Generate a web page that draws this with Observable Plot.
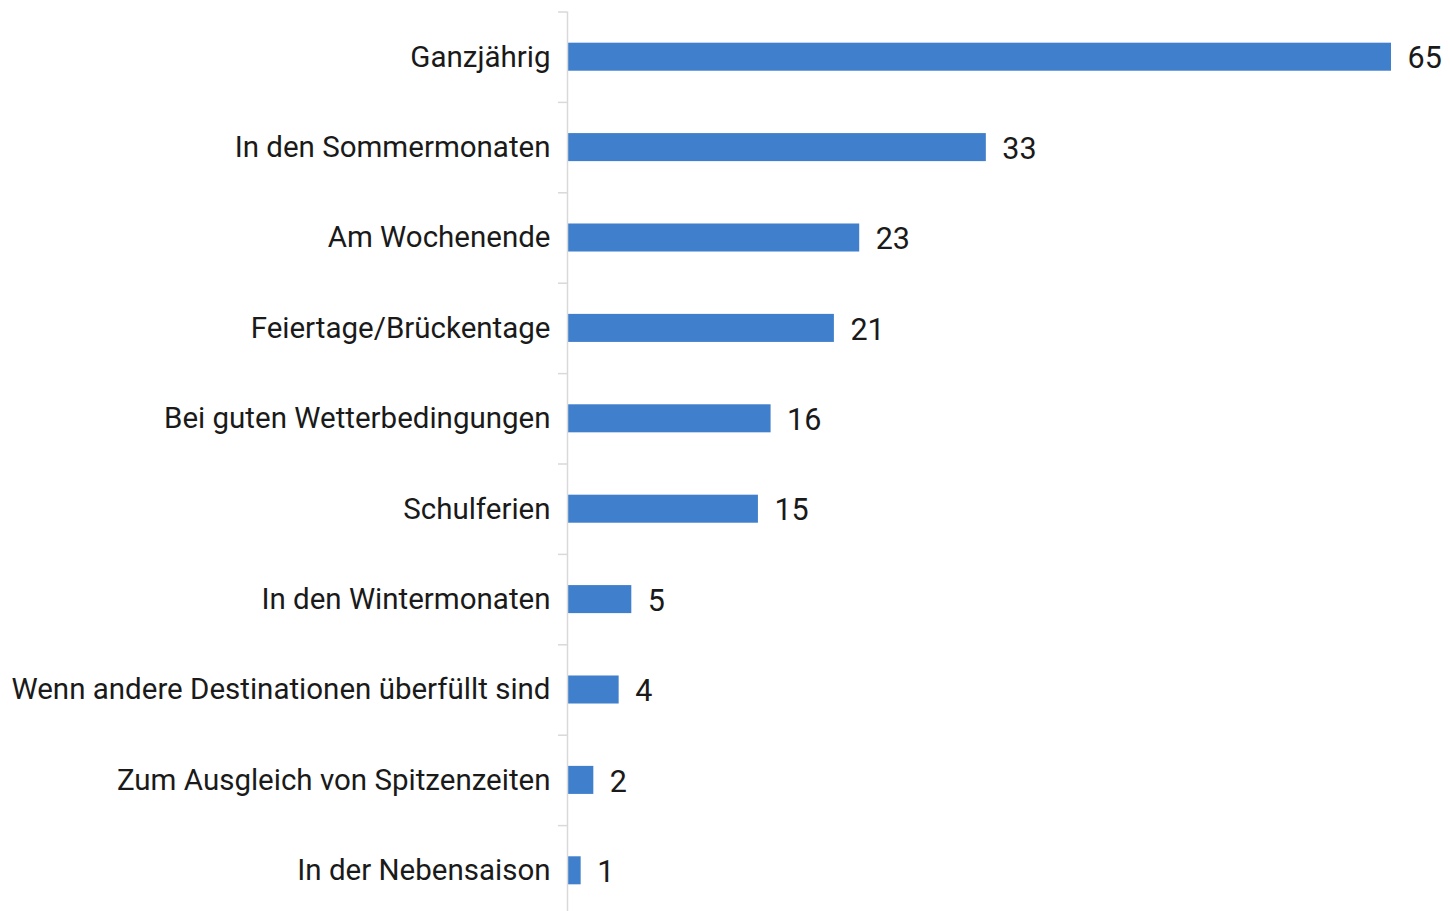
<!DOCTYPE html>
<html>
<head>
<meta charset="utf-8">
<script src="https://cdn.jsdelivr.net/npm/d3@7"></script>
<script src="https://cdn.jsdelivr.net/npm/@observablehq/plot@0.6"></script>
<style>
  html, body { margin: 0; padding: 0; background: #fff; overflow: hidden; }
</style>
</head>
<body>
<div id="chart"></div>
<script>
const categories = [
  "Ganzjährig",
  "In den Sommermonaten",
  "Am Wochenende",
  "Feiertage/Brückentage",
  "Bei guten Wetterbedingungen",
  "Schulferien",
  "In den Wintermonaten",
  "Wenn andere Destinationen überfüllt sind",
  "Zum Ausgleich von Spitzenzeiten",
  "In der Nebensaison"
];
const values = [65, 33, 23, 21, 16, 15, 5, 4, 2, 1];

const data = categories.map((c, i) => ({category: c, value: values[i]}));

const chart = Plot.plot({
  width: 1450,
  height: 911,
  marginLeft: 568,
  marginRight: 59,
  marginTop: 11.5,
  marginBottom: 0,
  style: {fontFamily: "Roboto, sans-serif", fontSize: "29.5px", color: "#1a1a1a", background: "#fff"},
  x: {domain: [0, 65], axis: null},
  y: {domain: categories, range: [11.5, 915.5], paddingInner: 0.69, paddingOuter: 0.345, round: false, label: null},
  marks: [
    Plot.barX(data, {x: "value", y: "category", fill: "#3f7fcb"}),
    Plot.ruleX([0], {stroke: "#d9d9d9", strokeWidth: 1.5, dx: -1}),
    Plot.axisY({tickSize: 9, tickFormat: () => "", dy: -45.2, dx: -1, stroke: "#d9d9d9", strokeWidth: 1.5, strokeOpacity: 1}),
    Plot.axisY({tickSize: 0, tickPadding: 18, fill: "#1a1a1a", fontSize: 29.5, label: null}),
    Plot.text(data, {x: "value", y: "category", text: d => String(d.value), textAnchor: "start", dx: 16, dy: 1.5, fontSize: 30.5, fill: "#1a1a1a"})
  ]
});
document.getElementById("chart").appendChild(chart);
</script>
</body>
</html>
